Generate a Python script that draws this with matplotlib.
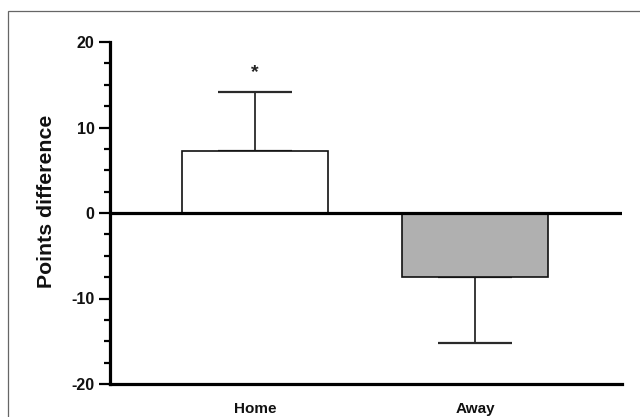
import matplotlib
matplotlib.use("Agg")
import matplotlib.pyplot as plt
from matplotlib.patches import Rectangle
from matplotlib.ticker import MultipleLocator

categories = ["Home", "Away"]
means = [7.25, -7.5]
sem = [6.9, 7.7]
colors = ["#ffffff", "#b0b0b0"]
ytick_vals = [-20, -10, 0, 10, 20]

plt.rcParams['font.family'] = ['Liberation Sans', 'DejaVu Sans']

fig = plt.figure(figsize=(6.4, 4.17), dpi=100)
ax = fig.add_axes([110/640, 1-384/417, 512/640, (384-42)/417])

x = list(range(len(categories)))
lower = [s if m < 0 else 0 for m, s in zip(means, sem)]
upper = [s if m > 0 else 0 for m, s in zip(means, sem)]

ax.bar(x, means, width=0.664, color=colors, edgecolor="#111111", linewidth=1.2, zorder=2)
ax.errorbar(x, means, yerr=[lower, upper], fmt='none', ecolor="#2a2a2a",
            elinewidth=1.3, capsize=26.3, capthick=1.6, zorder=1)
ax.axhline(0, color="black", linewidth=2.3, zorder=3)

ax.text(0, means[0] + sem[0] + 2.3, "*", ha="center", va="center", fontsize=14,
        fontweight="bold", color="#222222")

ax.set_xlim(-0.659, 1.668)
ax.set_ylim(-20, 20)
ax.set_yticks(ytick_vals)
ax.set_yticklabels([str(v) for v in ytick_vals], fontweight="bold", fontsize=11.5, color="#111111")
ax.yaxis.set_minor_locator(MultipleLocator(2.5))
ax.tick_params(axis='y', which='major', direction='out', length=8, width=1.6, pad=3, color="black")
ax.tick_params(axis='y', which='minor', direction='out', length=4, width=1.6, color="black")
ax.set_xticks(x)
ax.set_xticklabels(categories, fontweight="bold", fontsize=11, color="#111111")
ax.tick_params(axis='x', length=0, pad=13)

for s in ["top", "right"]:
    ax.spines[s].set_visible(False)
for s in ["left", "bottom"]:
    ax.spines[s].set_linewidth(2.3)
    ax.spines[s].set_color("black")

ax.set_ylabel("Points difference", fontsize=15.3, fontweight="bold", color="#111111")
ax.yaxis.set_label_coords((56 - 110) / 512, (384 - 201) / 342)

fig.patches.append(Rectangle((8/640, -0.1), 1.2, 1 - 11/417 + 0.1, transform=fig.transFigure,
                             fill=False, edgecolor="#666666", linewidth=0.9))

fig.savefig("out.png", dpi=100)
